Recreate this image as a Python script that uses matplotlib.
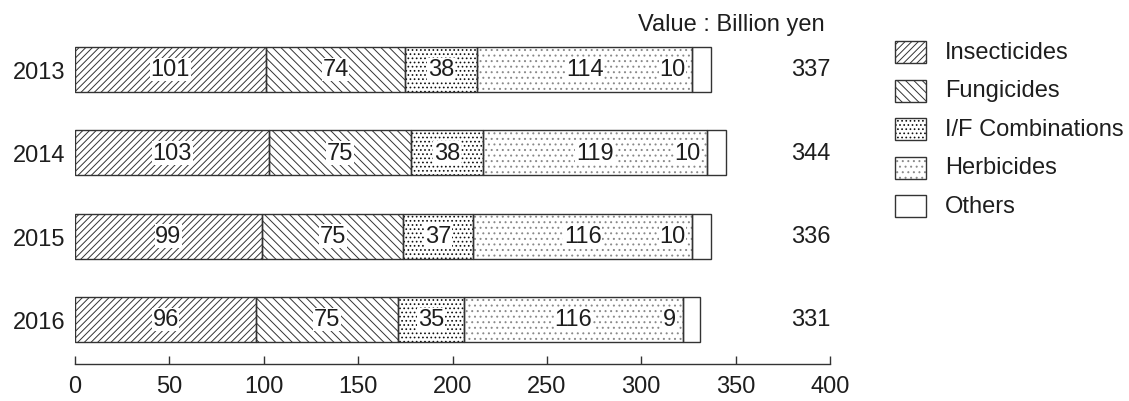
import matplotlib.pyplot as plt
import numpy as np
from matplotlib.patches import Rectangle

plt.rcParams["font.family"] = ["Liberation Sans", "DejaVu Sans"]
plt.rcParams["hatch.linewidth"] = 0.7

years = ["2013", "2014", "2015", "2016"]
categories = ["Insecticides", "Fungicides", "I/F Combinations", "Herbicides", "Others"]
insecticides = [101, 103, 99, 96]
fungicides = [74, 75, 75, 75]
if_combos = [38, 38, 37, 35]
herbicides = [114, 119, 116, 116]
others = [10, 10, 10, 9]
totals = [337, 344, 336, 331]

series = [insecticides, fungicides, if_combos, herbicides, others]
hatches = ["/////", "\\\\\\\\", "....", "...", ""]
hatch_colors = ["#333333", "#333333", "#111111", "#8a8a8a", "white"]
txt = "#1e1e1e"
fs = 17

fig = plt.figure(figsize=(11.29, 4.02), dpi=100)
ax = fig.add_axes([75 / 1129, 37 / 402, 755 / 1129, 335 / 402])

y = np.arange(len(years))
bar_h = 0.54
left = np.zeros(len(years))
for vals, hatch, hc in zip(series, hatches, hatch_colors):
    vals = np.array(vals, dtype=float)
    ax.barh(y, vals, bar_h, left=left, color="white", edgecolor=hc, hatch=hatch,
            lw=0, zorder=2)
    ax.barh(y, vals, bar_h, left=left, fill=False, edgecolor="#333333", lw=1.0,
            zorder=3)
    left += vals

# segment labels (white box behind text)
box = dict(facecolor="white", edgecolor="none", pad=0.5)
start = np.zeros(len(years))
for k, vals in enumerate(series[:4]):
    vals = np.array(vals, dtype=float)
    for i in range(len(years)):
        ax.text(start[i] + vals[i] / 2, y[i], str(int(vals[i])), ha="center",
                va="center", fontsize=fs, color=txt, bbox=box, zorder=4)
    start += vals
# "Others" value sits inside the right end of the herbicides segment
for i in range(len(years)):
    ax.text(start[i] - 3.5, y[i], str(others[i]), ha="right", va="center",
            fontsize=fs, color=txt, bbox=box, zorder=4)
    ax.text(390, y[i], str(totals[i]), ha="center", va="center", fontsize=fs,
            color=txt)

ax.set_xlim(0, 400)
ax.set_ylim(3.535, -0.486)
ax.set_xticks(np.arange(0, 401, 50))
ax.set_yticks(y)
ax.set_yticklabels(years)
for s in ["top", "right", "left"]:
    ax.spines[s].set_visible(False)
ax.spines["bottom"].set_color("#333333")
ax.spines["bottom"].set_linewidth(1.0)
ax.tick_params(axis="x", direction="in", length=6, width=1.0, color="#333333",
               labelsize=fs, labelcolor=txt, pad=8)
ax.tick_params(axis="y", length=0, labelsize=fs, labelcolor=txt, pad=7)

fig.text(825 / 1129, 1 - 25 / 402, "Value : Billion yen", ha="right",
         va="center", fontsize=fs, color=txt)

# legend drawn by hand
row_y = [53, 91.5, 130, 168.5, 207]
for lab, hatch, hc, ry in zip(categories, hatches, hatch_colors, row_y):
    x0, w, h = 895 / 1129, 31 / 1129, 22 / 402
    y0 = 1 - (ry + 11) / 402
    fig.add_artist(Rectangle((x0, y0), w, h, transform=fig.transFigure,
                             facecolor="white", edgecolor=hc, hatch=hatch, lw=0))
    fig.add_artist(Rectangle((x0, y0), w, h, transform=fig.transFigure,
                             fill=False, edgecolor="#333333", lw=1.0))
    fig.text(945 / 1129, 1 - ry / 402, lab, ha="left", va="center",
             fontsize=fs, color=txt)

fig.savefig("out.png", dpi=100)
